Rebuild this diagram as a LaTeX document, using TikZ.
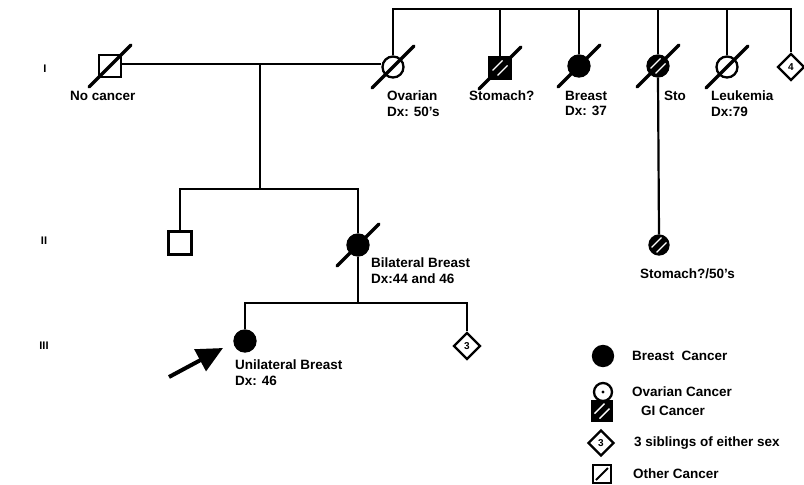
\documentclass[tikz,border=0pt]{standalone}
\usepackage{fontspec}
\setmainfont{Liberation Sans}
\usetikzlibrary{arrows.meta,positioning,shapes.geometric,calc}

\tikzset{
  person/.style={draw, line width=2.3pt, inner sep=0pt},
  male/.style={person, rectangle, minimum size=22pt},
  female/.style={person, circle, minimum size=21pt},
  sibs/.style={person, diamond, minimum size=27pt, font=\fontsize{10}{10}\selectfont\bfseries},
  affected/.style={fill=black},
  hatched/.style={fill=black, path picture={
      \draw[white, line width=1.4pt]
        ($(path picture bounding box.center)+(-7.5,2.5)$) -- ++(10,-10)
        ($(path picture bounding box.center)+(-2.5,7.5)$) -- ++(10,-10);}},
  link/.style={line width=2.2pt},
  deceased/.style={line width=3.4pt, line cap=round},
  lbl/.style={anchor=north west, inner sep=0pt, align=left,
    font=\fontsize{13.5}{15.5}\selectfont\bfseries},
  legtext/.style={anchor=west, inner sep=0pt, font=\fontsize{13.5}{15.5}\selectfont\bfseries},
  gen/.style={font=\fontsize{11}{11}\selectfont\bfseries, inner sep=0pt},
}
\newcommand{\deadslash}[1]{\draw[deceased] ($(#1)+(-21,21)$) -- ($(#1)+(21,-21)$);}

\begin{document}
\begin{tikzpicture}[x=1pt, y=-1pt]
  \useasboundingbox (0,0) rectangle (804,485);

  % Generation marks
  \node[gen] (gI) at (45,69) {I};
  \node[gen] (gII) at (44,241) {II};
  \node[gen] (gIII) at (44,346) {III};

  % Generation I
  \node[male] (gf) at (110,66) {};
  \node[female] (gm) at (393,67) {};
  \node[male, hatched] (aunt1) at (500,68) {};
  \node[female, affected] (aunt2) at (579,66) {};
  \node[female, hatched] (aunt3) at (658,66) {};
  \node[female] (aunt4) at (727,67) {};
  \node[sibs] (aunts) at (791,67) {4};
  \foreach \p in {gf,gm,aunt1,aunt2,aunt3,aunt4} {\deadslash{\p}}

  \coordinate (top) at (0,9);
  \draw[link] (gm.north) -- (gm.north |- top) -- (aunts.north |- top) -- (aunts.north);
  \foreach \p in {aunt1,aunt2,aunt3,aunt4}
    \draw[link] (\p.north) -- (\p.north |- top);

  \coordinate (mate) at (260,64);
  \draw[link] (gf.east |- mate) -- (gm.west |- mate);

  \node[lbl] (tgf) at (70,91) {No cancer};
  \node[lbl] (tgm) at (387,91) {Ovarian\\Dx: 50's};
  \node[lbl] (ta1) at (469,91) {Stomach?};
  \node[lbl] (ta2) at (565,91) {Breast\\Dx: 37};
  \node[lbl] (ta3) at (664,91) {Sto};
  \node[lbl] (ta4) at (711,91) {Leukemia\\Dx:79};

  % Generation II
  \node[male, minimum size=23pt] (uncle) at (180,243) {};
  \node[female, affected] (mother) at (358,245) {};
  \deadslash{mother}
  \node[female, hatched, minimum size=19pt] (cousin) at (659,245) {};

  \coordinate (sib2) at (260,189);
  \draw[link] (mate) -- (sib2);
  \draw[link] (uncle.north) -- (uncle.north |- sib2) -- (mother.north |- sib2) -- (mother.north);
  \draw[link] (aunt3.south) -- (cousin.north);

  \node[lbl] (tmo) at (371,258) {Bilateral Breast\\Dx:44 and 46};
  \node[lbl] (tco) at (640,269) {Stomach?/50's};

  % Generation III
  \node[female, affected] (proband) at (245,341) {};
  \node[sibs] (sibs3) at (467,346) {3};

  \coordinate (sib3) at (0,303);
  \draw[link] (mother.south) -- (mother.south |- sib3);
  \draw[link] (proband.north) -- (proband.north |- sib3) -- (sibs3.north |- sib3) -- (sibs3.north);

  \node[lbl] (tpr) at (235,360) {Unilateral Breast\\Dx: 46};

  \coordinate (arrtail) at (169,377);
  \coordinate (arrtip) at (223,348);
  \draw[line width=4pt, -{Triangle[length=26pt,width=24pt]}] (arrtail) -- (arrtip);

  % Legend
  \node[female, affected, minimum size=20pt] (lbc) at (603,356) {};
  \node[female, minimum size=18pt] (lov) at (603,392) {};
  \fill (lov.center) circle (1.6);
  \node[male, hatched, minimum size=19pt] (lgi) at (602,411) {};
  \node[sibs, minimum size=26pt] (lsib) at (601,443) {3};
  \node[male, minimum size=18pt] (loth) at (602,474) {};
  \draw[line width=1.8pt] ($(loth.center)+(-6,6)$) -- ($(loth.center)+(6,-6)$);

  \node[legtext] (tbc) at (632,356) {Breast~~Cancer};
  \node[legtext] (tov) at (632,392) {Ovarian Cancer};
  \node[legtext] (tgi) at (641,411) {GI Cancer};
  \node[legtext] (tsib) at (634,443) {3 siblings of either sex};
  \node[legtext] (toth) at (633,474) {Other Cancer};
\end{tikzpicture}
\end{document}
